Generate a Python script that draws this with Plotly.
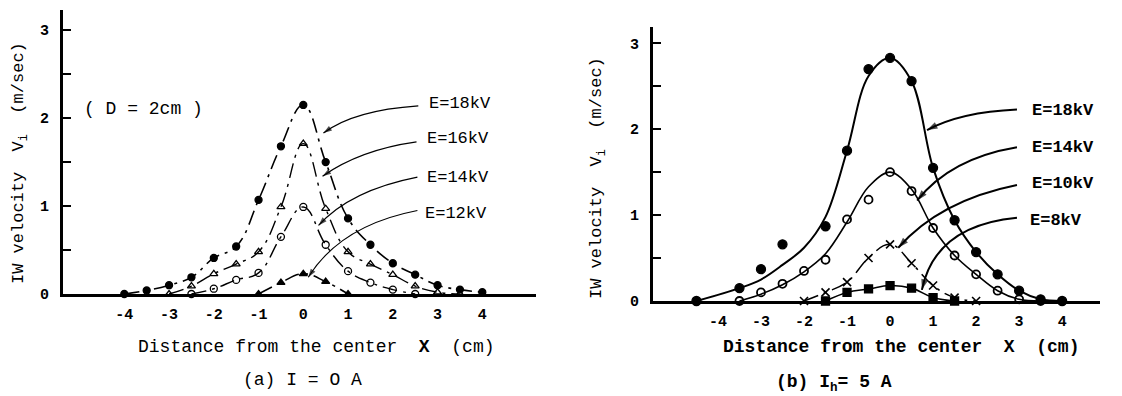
import plotly.graph_objects as go

# ---------------- Panel (a): I = 0 A ----------------
xa_18 = [-4, -3.5, -3, -2.5, -2, -1.5, -1, -0.5, 0, 0.5, 1, 1.5, 2, 2.5, 3, 3.5, 4]
va_18 = [0.0, 0.04, 0.1, 0.19, 0.41, 0.54, 1.07, 1.68, 2.15, 1.5, 0.86, 0.56, 0.35, 0.22, 0.1, 0.05, 0.02]
xa_16 = [-3, -2.5, -2, -1.5, -1, -0.5, 0, 0.5, 1, 1.5, 2, 2.5, 3, 3.5]
va_16 = [0.0, 0.09, 0.23, 0.34, 0.48, 0.99, 1.71, 0.97, 0.48, 0.34, 0.22, 0.09, 0.02, 0.0]
xa_14 = [-2.5, -2, -1.5, -1, -0.5, 0, 0.5, 1, 1.5, 2, 2.5]
va_14 = [0.0, 0.06, 0.16, 0.24, 0.65, 0.99, 0.56, 0.26, 0.13, 0.05, 0.0]
xa_12 = [-1, -0.5, 0, 0.5, 1]
va_12 = [0.0, 0.13, 0.23, 0.14, 0.0]

# ---------------- Panel (b): Ih = 5 A ----------------
xb_18 = [-4.5, -3.5, -3, -2.5, -1.5, -1, -0.5, 0, 0.5, 1, 1.5, 2, 2.5, 3, 3.5, 4]
vb_18 = [0.0, 0.15, 0.37, 0.66, 0.87, 1.75, 2.70, 2.83, 2.56, 1.55, 0.94, 0.57, 0.31, 0.12, 0.02, 0.0]
xb_18_fit = [-4.5, -3.5, -3, -2.5, -2, -1.5, -1, -0.5, 0, 0.5, 1, 1.5, 2, 2.5, 3, 3.5, 4]
vb_18_fit = [0.0, 0.15, 0.25, 0.42, 0.62, 0.98, 1.75, 2.62, 2.83, 2.56, 1.55, 0.94, 0.57, 0.31, 0.12, 0.02, 0.0]
xb_14 = [-3.5, -3, -2.5, -2, -1.5, -1, -0.5, 0, 0.5, 1, 1.5, 2, 2.5, 3, 3.5]
vb_14 = [0.0, 0.10, 0.20, 0.35, 0.48, 0.95, 1.18, 1.50, 1.28, 0.85, 0.53, 0.31, 0.12, 0.02, 0.0]
vb_14_fit = [0.0, 0.08, 0.19, 0.34, 0.55, 0.92, 1.33, 1.50, 1.30, 0.85, 0.53, 0.31, 0.12, 0.02, 0.0]
xb_10 = [-2, -1.5, -1, -0.5, 0, 0.5, 1, 1.5, 2]
vb_10 = [0.0, 0.10, 0.22, 0.50, 0.66, 0.44, 0.18, 0.04, 0.0]
xb_8 = [-1.5, -1, -0.5, 0, 0.5, 1, 1.5]
vb_8 = [0.0, 0.10, 0.14, 0.18, 0.15, 0.04, 0.0]

x_ticks = [-4, -3, -2, -1, 0, 1, 2, 3, 4]
y_ticks = [0, 1, 2, 3]
y_minor_ticks = [0.5, 1.5, 2.5]

# label annotations: (text, text_x, text_y, start_x, start_y, ctrl_x, ctrl_y, tip_x, tip_y)
labels_a = [
    ("E=18kV", 2.77, 2.17, 2.57, 2.14, 1.12, 2.09, 0.45, 1.83),
    ("E=16kV", 2.73, 1.77, 2.53, 1.73, 1.27, 1.64, 0.43, 1.34),
    ("E=14kV", 2.73, 1.33, 2.55, 1.33, 1.05, 1.18, 0.34, 0.78),
    ("E=12kV", 2.68, 0.92, 2.55, 0.95, 0.83, 0.78, 0.11, 0.19),
]
labels_b = [
    ("E=18kV", 3.26, 2.22, 2.95, 2.23, 1.63, 2.20, 0.86, 1.99),
    ("E=14kV", 3.26, 1.79, 2.95, 1.79, 1.40, 1.66, 0.63, 1.17),
    ("E=10kV", 3.26, 1.37, 2.95, 1.35, 1.16, 1.17, 0.19, 0.62),
    ("E=8kV", 3.21, 0.94, 2.95, 0.97, 1.05, 0.88, 0.74, 0.13),
]

FONT = "Liberation Mono, Courier New, monospace"
W, H = 1122, 396

fig = go.Figure()


def add_series(x, y, xa, ya, symbol, size, dash, lw, mode="lines+markers", mlw=1.3):
    fig.add_trace(go.Scatter(
        x=x, y=y, xaxis=xa, yaxis=ya, mode=mode,
        line=dict(color="black", width=lw, dash=dash, shape="spline", smoothing=1.2),
        marker=dict(symbol=symbol, size=size, color="black", line=dict(color="black", width=mlw)),
        cliponaxis=False, showlegend=False, hoverinfo="skip"))


# panel a
add_series(xa_18, va_18, "x", "y", "circle", 7, "longdashdot", 1.6)
add_series(xa_16, va_16, "x", "y", "triangle-up-open", 7, "longdashdot", 1.4)
add_series(xa_14, va_14, "x", "y", "circle-open", 7, "longdashdot", 1.4)
add_series(xa_12, va_12, "x", "y", "triangle-up", 7, "longdashdot", 1.6)

# panel b
fig.add_trace(go.Scatter(x=xb_18_fit, y=vb_18_fit, xaxis="x2", yaxis="y2", mode="lines",
                         line=dict(color="black", width=2, shape="spline", smoothing=1.0),
                         cliponaxis=False, showlegend=False, hoverinfo="skip"))
add_series(xb_18, vb_18, "x2", "y2", "circle", 9, "solid", 2, mode="markers")
fig.add_trace(go.Scatter(x=xb_14, y=vb_14_fit, xaxis="x2", yaxis="y2", mode="lines",
                         line=dict(color="black", width=1.6, shape="spline", smoothing=1.0),
                         cliponaxis=False, showlegend=False, hoverinfo="skip"))
add_series(xb_14, vb_14, "x2", "y2", "circle-open", 8, "solid", 1.6, mode="markers", mlw=1.8)
add_series(xb_10, vb_10, "x2", "y2", "x-thin", 8, "longdashdot", 1.5, mlw=1.6)
add_series(xb_8, vb_8, "x2", "y2", "square", 8, "solid", 1.6)


def bez(p0, c, p1, t):
    return ((1 - t) ** 2 * p0[0] + 2 * (1 - t) * t * c[0] + t ** 2 * p1[0],
            (1 - t) ** 2 * p0[1] + 2 * (1 - t) * t * c[1] + t ** 2 * p1[1])


shapes = []
annotations = []
for labs, xr, yr, lw, fsz, bold, ahs in [(labels_a, "x", "y", 1.2, 17, False, 9),
                                         (labels_b, "x2", "y2", 2.0, 17, True, 11)]:
    for (txt, tx, ty, sx, sy, cx, cy, px, py) in labs:
        shapes.append(dict(type="path", xref=xr, yref=yr,
                           path=f"M {sx},{sy} Q {cx},{cy} {px},{py}",
                           line=dict(color="black", width=lw)))
        bx, by = bez((sx, sy), (cx, cy), (px, py), 0.9)
        # arrowhead: marker oriented along the last segment of the curve
        fig.add_trace(go.Scatter(x=[bx, px], y=[by, py], xaxis=xr, yaxis=yr, mode="markers",
                                 marker=dict(symbol="arrow", size=[0, ahs], angleref="previous",
                                             color="black", line=dict(width=0)),
                                 cliponaxis=False, showlegend=False, hoverinfo="skip"))
        annotations.append(dict(x=tx, y=ty, xref=xr, yref=yr, xanchor="left", yanchor="middle",
                                text=(f"<b>{txt}</b>" if bold else txt), showarrow=False,
                                font=dict(family=FONT, size=fsz, color="black")))

annotations.append(dict(x=82 / W, y=1 - 97 / H, xref="paper", yref="paper", xanchor="left",
                        text="( D = 2cm )", showarrow=False,
                        font=dict(family=FONT, size=18, color="black")))


def paper_text(text, px, py, size=17, angle=0):
    annotations.append(dict(x=px / W, y=1 - py / H, xref="paper", yref="paper",
                            xanchor="center", yanchor="middle", text=text, textangle=angle,
                            showarrow=False, font=dict(family=FONT, size=size, color="black")))


paper_text("IW velocity  V<sub>i</sub>  (m/sec)", 20, 163, 17, -90)
paper_text("IW velocity  V<sub>i</sub>  (m/sec)", 598, 178, 17, -90)
paper_text("Distance from the center  <b>X</b>  (cm)", 316, 347, 18)
paper_text("<b>Distance from the center  X  (cm)</b>", 901, 347, 18)
paper_text("(a) I = O A", 302, 380, 18)
paper_text("<b>(b) I<sub>h</sub>= 5 A</b>", 834, 383, 18)

xt_text = [f"<b>{v}</b>" for v in x_ticks]
y_text = [f"<b>{t}</b>" for t in y_ticks]

axis_common_x = dict(showline=True, linewidth=3, linecolor="black", showgrid=False, zeroline=False,
                     ticks="", tickvals=x_ticks, ticktext=xt_text, ticklabelstandoff=4,
                     tickfont=dict(family=FONT, size=15, color="black"))
axis_common_y = dict(showline=True, linewidth=3, linecolor="black", showgrid=False, zeroline=False,
                     ticks="inside", ticklen=8, tickwidth=2, tickcolor="black",
                     tickvals=y_ticks, ticktext=y_text, ticklabelstandoff=8,
                     minor=dict(tickvals=y_minor_ticks, ticks="inside", ticklen=8, tickwidth=2,
                                tickcolor="black", showgrid=False),
                     tickfont=dict(family=FONT, size=15, color="black"))

fig.update_layout(
    width=W, height=H, margin=dict(l=0, r=0, t=0, b=0, autoexpand=False),
    paper_bgcolor="white", plot_bgcolor="white",
    xaxis=dict(axis_common_x, domain=[63 / W, 536 / W], range=[-5.37, 5.2], anchor="y"),
    yaxis=dict(axis_common_y, domain=[1 - 294 / H, 1 - 10 / H], range=[0, 3.23], anchor="x"),
    xaxis2=dict(axis_common_x, domain=[653 / W, 1100 / W], range=[-5.51, 4.88], anchor="y2"),
    yaxis2=dict(axis_common_y, domain=[1 - 301 / H, 1 - 27 / H], range=[0, 3.19], anchor="x2"),
    shapes=shapes, annotations=annotations,
)

fig.write_html("out.html", config={"displayModeBar": False},
               post_script="document.body.style.margin='0';document.body.style.overflow='hidden';")
